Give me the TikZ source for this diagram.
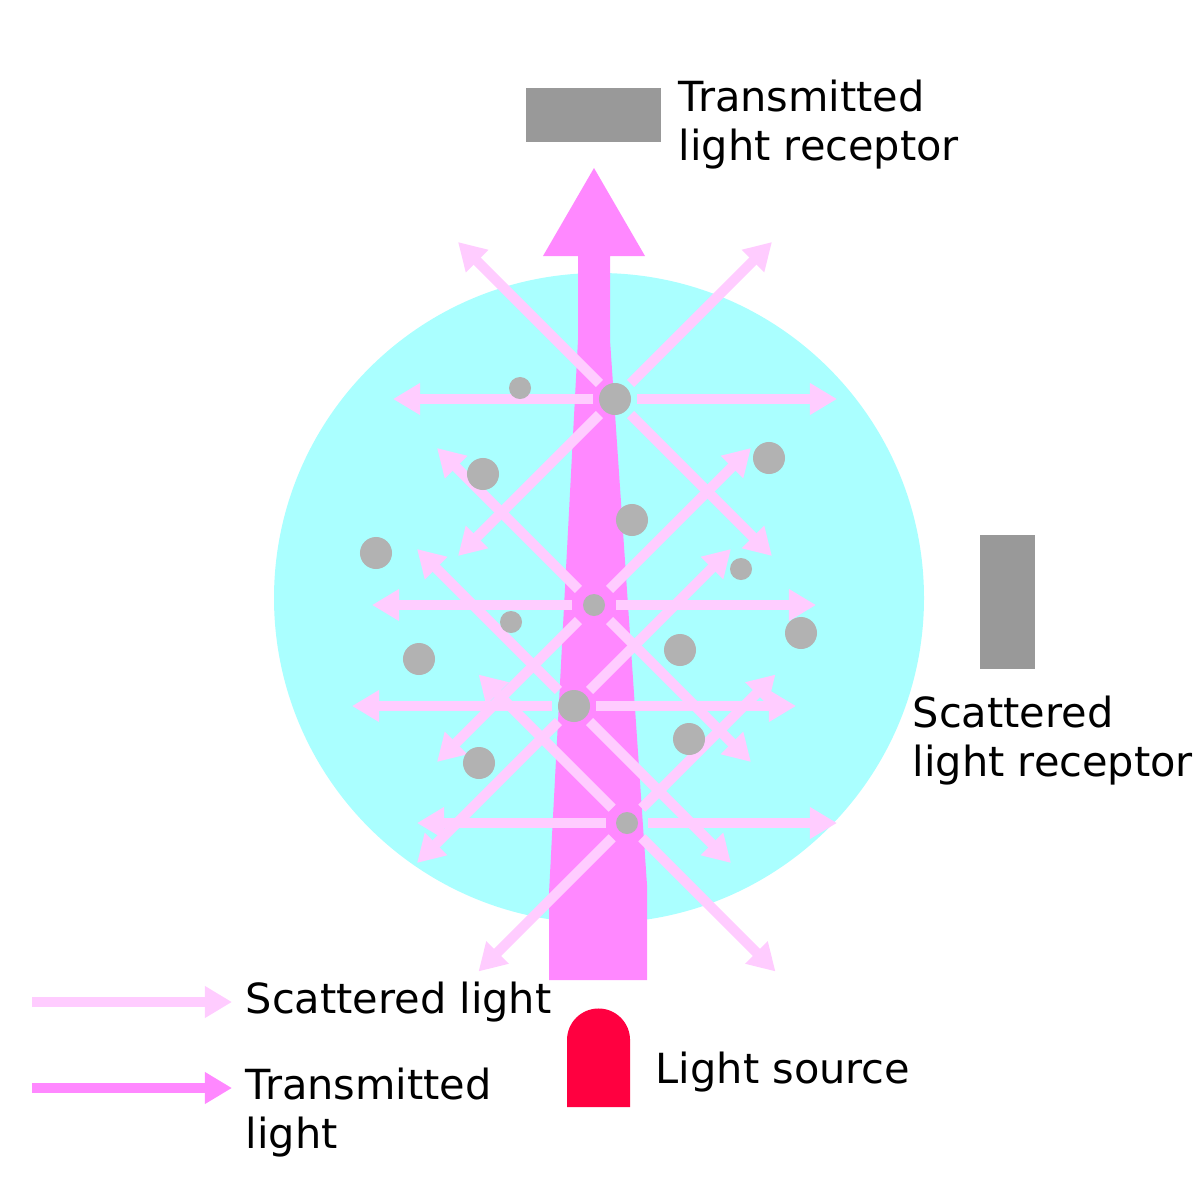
\documentclass[tikz,border=0pt]{standalone}
\usepackage{fontspec}
\setmainfont{DejaVu Sans}
\usetikzlibrary{arrows.meta}

\definecolor{sample}{HTML}{AAFFFF}
\definecolor{beam}{HTML}{FF88FF}
\definecolor{scatter}{HTML}{FFCCFF}
\definecolor{grain}{HTML}{B2B2B2}
\definecolor{receptor}{HTML}{999999}
\definecolor{lamp}{HTML}{FF0040}

\tikzset{
  scat/.style={draw=scatter, line width=0.1cm, -{Triangle[length=0.27cm,width=0.3cm]}},
  trans/.style={scat, draw=beam},
  grainbig/.style={circle, fill=grain, inner sep=0, minimum size=0.32cm},
  grainsmall/.style={grainbig, minimum size=0.22cm},
  lbl/.style={inner sep=0, align=left, font=\fontsize{11.8pt}{13.9pt}\selectfont},
}

\begin{document}
\begin{tikzpicture}[x=0.01cm, y=-0.01cm]
  \useasboundingbox (0,0) rectangle (1200,1200);
  % sample cell and transmitted beam
  \fill[sample] (599,598) circle[radius=325];
  \fill[beam] (543,256) -- (594,168) -- (645,256) -- (610,256) -- (610,340) -- (647,885)
    -- (647,980) -- (549,980) -- (549,893) -- (578,340) -- (578,256) -- cycle;
  % receptors and light source
  \fill[receptor] (526,88) rectangle (661,142);
  \fill[receptor] (980,535) rectangle (1035,669);
  \fill[lamp] (567,1107) -- (567,1040) arc[start angle=180, end angle=0, radius=0.315cm]
    -- (630,1107) -- cycle;

  % particles that scatter the light
  \node[grainbig] (s1) at (615,399) {};
  \node[grainsmall] (s2) at (594,605) {};
  \node[grainbig] (s3) at (574,706) {};
  \node[grainsmall] (s4) at (627,823) {};
  \foreach \p in {s1,s2,s3}
    \foreach \a in {0,45,135,180,225,315}
      \draw[scat] ([shift={(\a:22)}]\p.center) -- ([shift={(\a:222)}]\p.center);
  \foreach \a in {0,45,135,180,225,315}
    \draw[scat] ([shift={(\a:21)}]s4.center) -- ([shift={(\a:210)}]s4.center);

  % other particles
  \node[grainsmall] (p1) at (520,388) {};
  \node[grainbig] (p2) at (483,474) {};
  \node[grainbig] (p3) at (769,458) {};
  \node[grainbig] (p4) at (632,520) {};
  \node[grainbig] (p5) at (376,553) {};
  \node[grainsmall] (p6) at (741,569) {};
  \node[grainsmall] (p7) at (511,622) {};
  \node[grainbig] (p8) at (801,633) {};
  \node[grainbig] (p9) at (419,659) {};
  \node[grainbig] (p10) at (680,650) {};
  \node[grainbig] (p11) at (689,739) {};
  \node[grainbig] (p12) at (479,763) {};

  % labels
  \node[lbl, anchor=north west] (trrec) at (678,79.5) {Transmitted\\light receptor};
  \node[lbl, anchor=north west] (screc) at (912,695.5) {Scattered\\light receptor};
  \node[lbl, anchor=base west] (src) at (655,1083) {Light source};

  % legend
  \draw[scat] (32,1002) -- (232,1002);
  \node[lbl, anchor=base west] (lgscat) at (245,1013) {Scattered light};
  \draw[trans] (32,1088) -- (232,1088);
  \node[lbl, anchor=north west] (lgtrans) at (245,1067.5) {Transmitted\\light};
\end{tikzpicture}
\end{document}
